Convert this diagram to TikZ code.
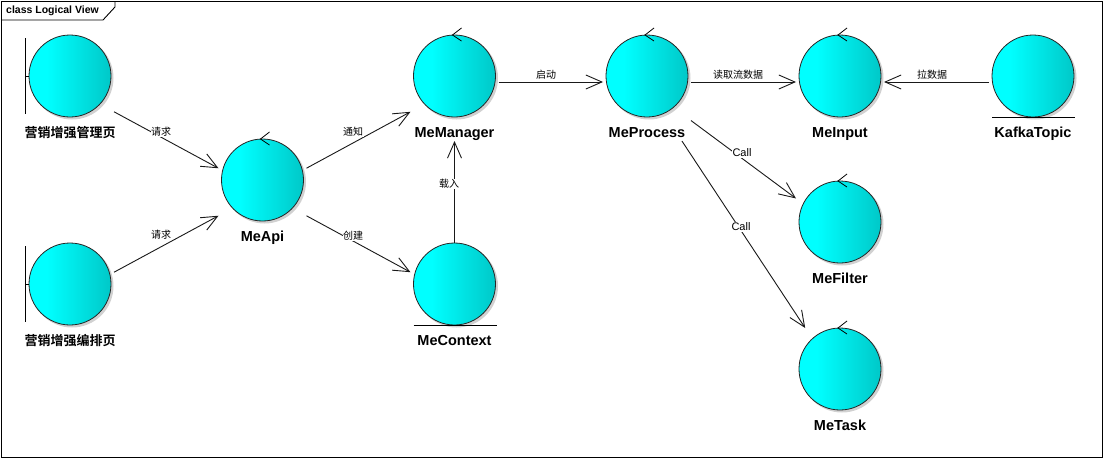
\documentclass[tikz,border=0pt]{standalone}
\usepackage{fontspec}
\setmainfont{Liberation Sans}
\newfontfamily\cjk{Noto Sans CJK SC}
\newfontfamily\cjkb{Noto Sans CJK SC Bold}
\usetikzlibrary{arrows.meta}
\definecolor{ballL}{RGB}{0,255,255}
\definecolor{ballR}{RGB}{0,200,200}
\pgfdeclarehorizontalshading{ball}{100bp}{color(0bp)=(ballL); color(36bp)=(ballL); color(75bp)=(ballR); color(100bp)=(ballR)}
\tikzset{
  elembox/.style={minimum width=88pt,minimum height=106pt,inner sep=0pt,outer sep=0pt},
  ballnode/.style={circle,draw=black!85,line width=.8pt,shading=ball,minimum size=82pt,inner sep=0pt,outer sep=0pt},
  elemname/.style={font=\fontsize{14.5}{16}\selectfont\bfseries,inner sep=0pt,anchor=base},
  cjkname/.style={font=\fontsize{13}{15}\selectfont\cjkb,inner sep=0pt,anchor=base},
  conn/.style={draw=black!90,line width=.9pt,-{Straight Barb[length=16pt,width=14pt,line width=.9pt]}},
  lab/.style={font=\fontsize{10}{12}\selectfont,fill=white,inner sep=.5pt},
  labfree/.style={font=\fontsize{10}{12}\selectfont,inner sep=0pt},
  calllab/.style={font=\fontsize{11}{12}\selectfont,fill=white,inner sep=.5pt},
  icon/.style={draw=black,line width=.8pt},
}
\newcommand{\elem}[6]{% name, cx, cy, box offset, label style, label
  \fill[black,opacity=.18] (#2+2,#3+2) circle[radius=41.5];
  \node[elembox] (#1) at (#2,#3+#4) {};
  \node[ballnode] (#1-c) at (#2,#3) {};
  \node[#5] (#1-l) at (#2,#3+61) {#6};
}
\newcommand{\ctrl}[1]{\draw[icon] ([shift={(7,6)}]#1-c.north) -- ([shift={(-2,0)}]#1-c.north) -- ([shift={(7,-7)}]#1-c.north);}
\newcommand{\bnd}[1]{\draw[icon] ([xshift=-4pt,yshift=38pt]#1-c.west) -- ([xshift=-4pt,yshift=-38pt]#1-c.west); \draw[icon] ([xshift=-4pt]#1-c.west) -- (#1-c.west);}
\newcommand{\ent}[1]{\draw[icon] ([xshift=-41pt]#1-c.south) -- ([xshift=42pt]#1-c.south);}
\begin{document}
\begin{tikzpicture}[x=1pt,y=-1pt]
\useasboundingbox (0,0) rectangle (1103,458);
\fill[white] (0,0) rectangle (1103,458);
\draw[black,line width=.9pt] (1,1) rectangle (1102,457.5);
\draw[black,line width=.9pt] (1,20) -- (103,20) -- (115,7) -- (115,1);
\node[anchor=west,font=\fontsize{10.5}{12}\selectfont\bfseries,inner sep=0pt] (title) at (6,11) {class Logical View};

\elem{pa}{70}{76}{12}{cjkname}{营销增强管理页}
\elem{pb}{70}{284}{12}{cjkname}{营销增强编排页}
\elem{api}{262.5}{180}{12}{elemname}{MeApi}
\elem{mgr}{454.5}{76}{12}{elemname}{MeManager}
\elem{ctx}{454.5}{284}{12}{elemname}{MeContext}
\elem{prc}{647}{76}{12}{elemname}{MeProcess}
\elem{inp}{840}{76}{12}{elemname}{MeInput}
\elem{flt}{840}{222}{9}{elemname}{MeFilter}
\elem{tsk}{840}{369}{12}{elemname}{MeTask}
\elem{kfk}{1033}{76}{12}{elemname}{KafkaTopic}

\bnd{pa}\bnd{pb}
\ctrl{api}\ctrl{mgr}\ctrl{prc}\ctrl{inp}\ctrl{flt}\ctrl{tsk}
\ent{ctx}\ent{kfk}

\draw[conn] (pa) -- (api);
\draw[conn] (pb) -- (api);
\draw[conn] (api) -- (mgr);
\draw[conn] (api) -- (ctx);
\draw[conn] (ctx) -- (mgr);
\draw[conn] ([yshift=6pt]mgr.east) -- ([yshift=6pt]prc.west);
\draw[conn] ([yshift=6pt]prc.east) -- ([yshift=6pt]inp.west);
\draw[conn] ([yshift=6pt]kfk.west) -- ([yshift=6pt]inp.east);
\draw[conn] (prc) -- (flt);
\draw[conn] (prc) -- (tsk);

\node[lab] (l1) at (161,132) {\cjk 请求};
\node[lab] (l2) at (161,235) {\cjk 请求};
\node[lab] (l3) at (353,132) {\cjk 通知};
\node[lab] (l4) at (353,236) {\cjk 创建};
\node[lab] (l5) at (449,184) {\cjk 载入};
\node[labfree] (l6) at (546,75) {\cjk 启动};
\node[labfree] (l7) at (738,75) {\cjk 读取流数据};
\node[labfree] (l8) at (932,75) {\cjk 拉数据};
\node[calllab] (l9) at (742,153) {Call};
\node[calllab] (l10) at (741,227) {Call};
\end{tikzpicture}
\end{document}
